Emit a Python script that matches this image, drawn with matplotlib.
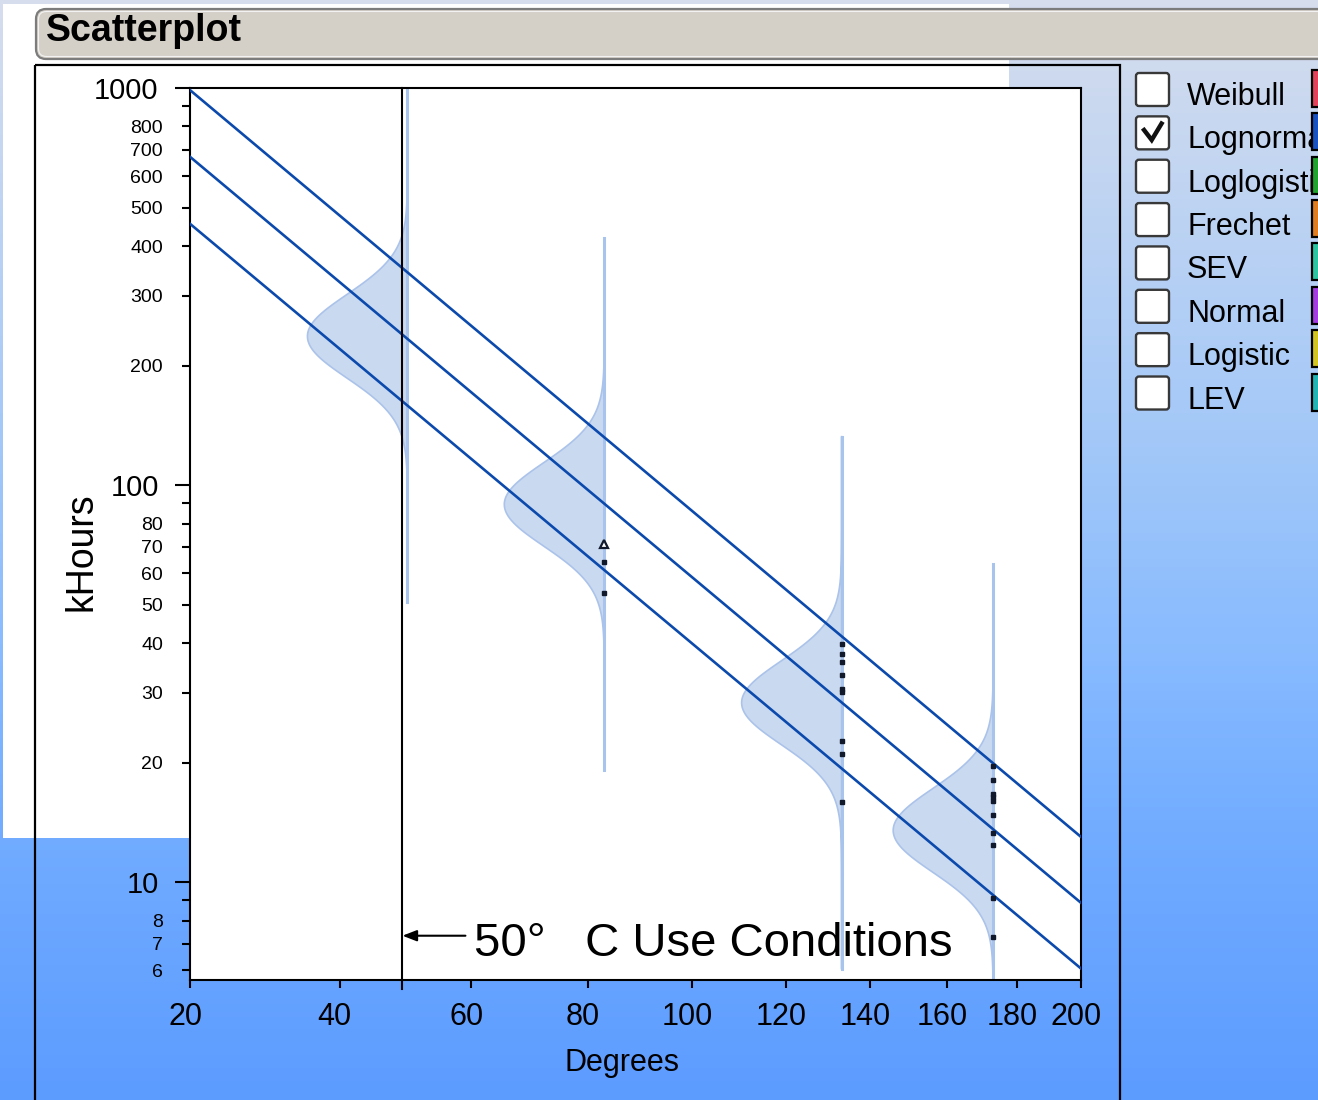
import numpy as np
import matplotlib
matplotlib.use("Agg")
import matplotlib.pyplot as plt
from matplotlib import font_manager
from matplotlib import transforms as mtransforms
from matplotlib.patches import Rectangle, FancyBboxPatch, Polygon
from matplotlib.lines import Line2D
from matplotlib.colors import LinearSegmentedColormap
from matplotlib.ticker import FixedLocator, FixedFormatter, NullLocator

plt.rcParams["font.family"] = ["Liberation Sans", "DejaVu Sans"]

# ---------------------------------------------------------------- data
use_temp = 50                       # deg C, use condition
test_temps = [83, 133, 173]         # deg C, accelerated stress levels
life_83c = [63.9, 53.4]             # kHours, failures
life_133c = [39.75, 37.5, 35.9, 33.3, 30.6, 30.1, 22.7, 21.0, 15.95]
life_173c = [19.6, 18.1, 16.7, 16.4, 16.05, 14.8, 13.3, 12.4, 9.1, 7.28]
runout_temps = [83]                 # suspended unit
runout_life = [71.0]

# Arrhenius-lognormal fit: upper / median / lower quantile lines
fit_temps = [20, 200]
upper_life = [988, 13.0]
median_life = [671, 8.87]
lower_life = [455, 6.06]

# lognormal life densities drawn at each temperature
density_temps = [50, 83, 133, 173]
density_medians = [237, 89.4, 28.3, 13.5]
density_sigma = 0.105               # decades
density_halfspan = 0.67             # decades

x_ticks = [20, 40, 60, 80, 100, 120, 140, 160, 180, 200]
y_major = [10, 100, 1000]
y_minor = [6, 7, 8, 9, 20, 30, 40, 50, 60, 70, 80, 90,
           200, 300, 400, 500, 600, 700, 800, 900]
y_minor_labels = ["6", "7", "8", "", "20", "30", "40", "50", "60", "70", "80", "",
                  "200", "300", "400", "500", "600", "700", "800", ""]

dist_names = ["Weibull", "Lognormal", "Loglogistic", "Frechet",
              "SEV", "Normal", "Logistic", "LEV"]
dist_checked = [False, True, False, False, False, False, False, False]
dist_colors = ["#e2435b", "#1a52c2", "#22a22e", "#e07c22",
               "#2ec4a2", "#a43ee2", "#d2c422", "#22b4b4"]

# ---------------------------------------------------------------- figure
W, H = 1318, 1100
fig = plt.figure(figsize=(W / 100, H / 100), dpi=100)

# background layer in pixel coordinates (y down)
bg = fig.add_axes([0, 0, 1, 1])
bg.set_zorder(-1)
bg.axis("off")
cmap = LinearSegmentedColormap.from_list(
    "panel", [(0.0, "#d6dded"), (0.1, "#c9d8f0"), (0.4, "#a3c8f8"),
              (0.6, "#87baff"), (0.76, "#71acff"), (1.0, "#5d9cff")])
bg.imshow(np.linspace(0, 1, 256)[:, None], cmap=cmap, extent=(0, W, H, 0),
          aspect="auto", interpolation="bilinear")
bg.add_patch(Rectangle((3, 4), 1006, 834, facecolor="white", edgecolor="none"))

# title bar
bg.add_patch(FancyBboxPatch((36, 9), 1400, 50,
                            boxstyle="round,pad=0,rounding_size=10",
                            facecolor="#d4d0c8", edgecolor="#7c7c7c", lw=1.6))
bg.add_patch(FancyBboxPatch((38.5, 11.5), 1400, 45,
                            boxstyle="round,pad=0,rounding_size=8",
                            facecolor="none", edgecolor="#f2f2f2", lw=0.8))
bg.text(46, 31, "Scatterplot", fontsize=27, fontweight="bold",
        ha="left", va="center")

# panel frame
bg.add_patch(Rectangle((35, 65), 1085, 1100, facecolor="none",
                       edgecolor="black", lw=1.6))

# distribution selector (labels run under the colour swatches)
row_top0, row_step = 73, 43.36
for i, (name, chk, col) in enumerate(zip(dist_names, dist_checked, dist_colors)):
    top = row_top0 + i * row_step
    bg.text(1187, top + 32, name, fontsize=22, ha="left", va="baseline")
    bg.add_patch(FancyBboxPatch((1136, top), 33, 33,
                                boxstyle="round,pad=0,rounding_size=3",
                                facecolor="white", edgecolor="#383838", lw=1.7))
    if chk:
        bg.add_line(Line2D([1136 + 6.7, 1136 + 15.7, 1136 + 26.7],
                           [top + 11.9, top + 23.6, top + 5.3],
                           color="#111111", lw=3.2, solid_joinstyle="miter",
                           solid_capstyle="butt"))
    bg.add_patch(Rectangle((1311.5, top - 3), 40, 37, facecolor=col,
                           edgecolor="black", lw=1.6, zorder=5))

bg.text(82, 552, "kHours", fontsize=27, rotation=90, ha="center", va="center")
bg.text(622, 1063, "Degrees", fontsize=22, ha="center", va="center")
bg.set_xlim(0, W)
bg.set_ylim(H, 0)

# ---------------------------------------------------------------- plot area
ax = fig.add_axes([190 / W, (H - 980) / H, 891 / W, 892 / H])
ax.set_facecolor("white")
ax.set_xscale("function",
              functions=(lambda t: -1000.0 / (np.asarray(t) + 273.15),
                         lambda u: -1000.0 / np.asarray(u) - 273.15))
ax.set_yscale("log")
ax.set_xlim(20, 200)
ax.set_ylim(5.67, 1000)
ax.autoscale(False)

for sp in ax.spines.values():
    sp.set_linewidth(1.5)

ax.xaxis.set_major_locator(FixedLocator(x_ticks))
ax.xaxis.set_minor_locator(NullLocator())
ax.set_xticklabels([])
ax.tick_params(axis="x", which="major", direction="out", length=6, width=1.5)

ax.yaxis.set_major_locator(FixedLocator(y_major))
ax.yaxis.set_major_formatter(FixedFormatter([str(v) for v in y_major]))
ax.yaxis.set_minor_locator(FixedLocator(y_minor))
ax.yaxis.set_minor_formatter(FixedFormatter(y_minor_labels))
ax.tick_params(axis="y", which="major", direction="out", length=11, width=1.5,
               labelsize=21, pad=11.5)
ax.tick_params(axis="y", which="minor", direction="out", length=6, width=1.5,
               labelsize=14, pad=13.5)

# x tick labels, nudged slightly left of their ticks
for t in x_ticks:
    ax.annotate(str(t), xy=(t, 0), xycoords=ax.get_xaxis_transform(),
                xytext=(-5, -22), textcoords="offset pixels",
                ha="center", va="top", fontsize=22, annotation_clip=False)


def axes_frac(temp):
    disp = ax.transData.transform((temp, 10.0))
    return ax.transAxes.inverted().transform(disp)[0]


blend = ax.get_yaxis_transform()
peak_width = 100.0 / 891.0
for temp, med in zip(density_temps, density_medians):
    xb = axes_frac(temp)
    lm = np.log10(med)
    ly = np.linspace(lm - density_halfspan, lm + density_halfspan, 300)
    pdf = np.exp(-0.5 * ((ly - lm) / density_sigma) ** 2)
    yy = 10 ** ly
    xs = xb - peak_width * pdf
    verts = np.column_stack([np.r_[xs, xb, xb], np.r_[yy, yy[-1], yy[0]]])
    ax.add_patch(Polygon(verts, closed=True, transform=blend,
                         facecolor="#c9d9f0", edgecolor="#abc3ea", lw=1.2,
                         zorder=1))
    ax.plot([xb, xb], [yy[0], yy[-1]], transform=blend, color="#a9c4ec",
            lw=2.2, zorder=1.5)

line_col = "#0b4aac"
for vals in (upper_life, median_life, lower_life):
    ax.plot(fit_temps, vals, color=line_col, lw=1.9, zorder=3)

# use-condition marker line and annotation
shifted = mtransforms.offset_copy(ax.get_xaxis_transform(), fig=fig,
                                  x=-5, y=0, units="dots")
ax.plot([use_temp, use_temp], [-0.01, 1.0], transform=shifted, color="black",
        lw=1.5, zorder=4, clip_on=False)
arrow_y = 7.33
shifted_data = mtransforms.offset_copy(ax.transData, fig=fig, x=-5, y=0,
                                       units="dots")
ax.annotate("", xy=(use_temp, arrow_y), xycoords=shifted_data,
            xytext=(63, 0), textcoords="offset pixels",
            arrowprops=dict(arrowstyle="-|>,head_length=0.85,head_width=0.33",
                            color="black", lw=1.5, shrinkA=0, shrinkB=0),
            zorder=5)
names = {f.name for f in font_manager.fontManager.ttflist}
if "Liberation Sans Narrow" in names:
    ann_family, ann_size = ["Liberation Sans Narrow", "DejaVu Sans"], 41
else:
    ann_family, ann_size = ["Liberation Sans", "DejaVu Sans"], 34
ax.annotate("50°   C Use Conditions", xy=(use_temp, arrow_y),
            xycoords=shifted_data, xytext=(72, -20),
            textcoords="offset pixels", ha="left", va="baseline",
            fontsize=ann_size, family=ann_family, zorder=5)

# observed failures and suspension
mk = dict(linestyle="none", marker="s", ms=3.4, color="#111a2c",
          mec="#111a2c", zorder=6)
ax.plot([test_temps[0]] * len(life_83c), life_83c, **mk)
ax.plot([test_temps[1]] * len(life_133c), life_133c, **mk)
ax.plot([test_temps[2]] * len(life_173c), life_173c, **mk)
ax.plot(runout_temps, runout_life, linestyle="none", marker="^", ms=6,
        mfc="white", mec="#111a2c", mew=1.6, zorder=6)

fig.savefig("out.png", dpi=100)
